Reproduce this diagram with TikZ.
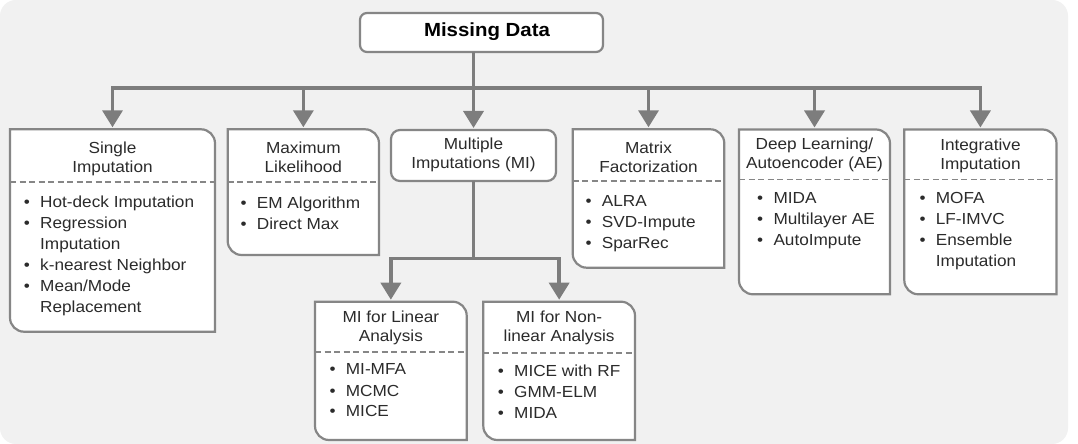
\documentclass[tikz,border=0pt]{standalone}
\usepackage{fontspec}
\setmainfont{Liberation Sans}[FakeStretch=1.075]
\usetikzlibrary{arrows.meta}
\definecolor{bgc}{HTML}{F1F1F1}
\definecolor{linec}{HTML}{7D7D7D}
\definecolor{boxc}{HTML}{868686}
\definecolor{txtc}{HTML}{2B2B2B}
\newcommand\bul{\makebox[16.3pt][l]{\textbullet}}
\newcommand\nob{\hspace*{16.3pt}}
\newcommand\mkcard[6]{%
  \node[cardnode, minimum width={(#4-#2)*1pt}, minimum height={(#5-#3)*1pt}] (#1) at ({(#2+#4)/2},{444-(#3+#5)/2}) {};
  \path[cardline] (#1.north west) -- ([xshift=-14pt]#1.north east) arc[start angle=90,end angle=0,radius=14pt] -- (#1.south east) -- ([xshift=14pt]#1.south west) arc[start angle=270,end angle=180,radius=14pt] -- cycle;
  \draw[dashline] (#2,{444-#6}) -- (#4,{444-#6});
}
\tikzset{
  cardnode/.style={rectangle, draw=none, inner sep=0pt, outer sep=0pt},
  cardline/.style={draw=boxc, line width=2.2pt, fill=white},
  dashline/.style={draw=boxc, line width=1.8pt, dash pattern=on 6pt off 3.5pt},
  hdr/.style={font=\fontsize{16}{19}\selectfont, align=center, text=txtc, inner sep=0pt},
  items/.style={font=\fontsize{16}{21}\selectfont, align=left, text=txtc, inner sep=0pt},
  rbox/.style={rectangle, draw=boxc, line width=2.2pt, fill=white, inner sep=0pt, outer sep=0pt},
  arr/.style={draw=linec, line width=3.5pt, -{Triangle[width=20pt,length=17pt]}, shorten >=2pt},
}
\begin{document}
\begin{tikzpicture}[x=1pt,y=1pt]
\useasboundingbox (0,0) rectangle (1078,444);
\fill[white] (0,0) rectangle (1078,444);
\fill[bgc, rounded corners=16pt] (0,0) rectangle (1068,444);

% top box
\node[rbox, rounded corners=7pt, minimum width=243pt, minimum height=39pt] (MD) at (481.5,{444-32.5}) {};
\node[font=\bfseries\fontsize{19}{22}\selectfont, anchor=base, inner sep=0pt, text=black] (MDt) at (487,{444-37}) {Missing Data};

% MI box
\node[rbox, rounded corners=9pt, minimum width=165pt, minimum height=51pt] (MI) at (473.5,{444-155.5}) {};
\node[hdr, anchor=base] (MIh) at (473.5,{444-169}) {Multiple\\Imputations (MI)};

% cards
\mkcard{SI}{10}{129.3}{215}{331.7}{181.7}
\mkcard{ML}{227.7}{129.3}{379}{255}{182}
\mkcard{MF}{572.7}{129.3}{724.3}{267.7}{181}
\mkcard{DL}{739}{129.5}{890}{294.3}{179.5}
\mkcard{II}{904.3}{129.5}{1056.5}{294.3}{179.5}
\mkcard{LIN}{315}{301.7}{466.7}{440}{352.3}
\mkcard{NL}{483.3}{301.7}{635}{440}{352.7}

% headers (anchor = baseline of last line)
\node[hdr, anchor=base] (SIh) at (112.5,{444-172.5}) {Single\\Imputation};
\node[hdr, anchor=base] (MLh) at (303.35,{444-172.8}) {Maximum\\Likelihood};
\node[hdr, anchor=base] (MFh) at (648.5,{444-172.2}) {Matrix\\Factorization};
\node[hdr, anchor=base] (DLh) at (814.5,{444-168.7}) {Deep Learning/\\Autoencoder (AE)};
\node[hdr, anchor=base] (IIh) at (980.4,{444-170}) {Integrative\\Imputation};
\node[hdr, anchor=base] (LINh) at (390.85,{444-342}) {MI for Linear\\Analysis};
\node[hdr, anchor=base] (NLh) at (559.15,{444-341.2}) {MI for Non-\\linear Analysis};

% items (anchor = baseline of last line)
\node[items, anchor=base west] (SIi) at (23.7,{444-312.7}) {\bul Hot-deck Imputation\\\bul Regression\\\nob Imputation\\\bul k-nearest Neighbor\\\bul Mean/Mode\\\nob Replacement};
\node[items, anchor=base west] (MLi) at (240.4,{444-229.5}) {\bul EM Algorithm\\\bul Direct Max};
\node[items, anchor=base west] (MFi) at (585.4,{444-248.7}) {\bul ALRA\\\bul SVD-Impute\\\bul SparRec};
\node[items, anchor=base west] (DLi) at (757,{444-246}) {\bul MIDA\\\bul Multilayer AE\\\bul AutoImpute};
\node[items, anchor=base west] (IIi) at (919.4,{444-267}) {\bul MOFA\\\bul LF-IMVC\\\bul Ensemble\\\nob Imputation};
\node[items, anchor=base west] (LINi) at (329.4,{444-417}) {\bul MI-MFA\\\bul MCMC\\\bul MICE};
\node[items, anchor=base west] (NLi) at (497.7,{444-418.7}) {\bul MICE with RF\\\bul GMM-ELM\\\bul MIDA};

% connectors
\coordinate (bus) at (0,{444-87.8});
\coordinate (bus2) at (0,{444-258.3});
\draw[arr] (MD.south -| MI.north) -- (MI.north);
\foreach \n in {SI,ML,MF,DL,II} \draw[arr] (MI.north |- bus) -| (\n.north);
\draw[arr] (MI.south) |- (LIN.north |- bus2) -- (LIN.north);
\draw[arr] (MI.south) |- (NL.north |- bus2) -- (NL.north);
\end{tikzpicture}
\end{document}
